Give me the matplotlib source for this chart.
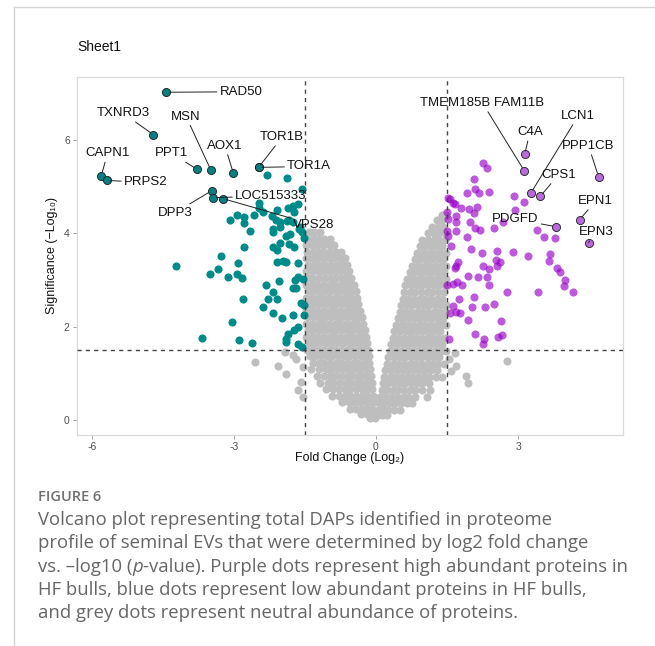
import matplotlib
matplotlib.use("Agg")
import matplotlib.pyplot as plt
from matplotlib.lines import Line2D

# ---- labelled proteins: point (log2 FC, -log10 p) and where the label sits
down_genes = ["RAD50", "TXNRD3", "MSN", "PPT1", "AOX1", "TOR1B", "TOR1A",
              "CAPN1", "PRPS2", "DPP3", "LOC515333", "VPS28"]
down_fc = [-4.43, -4.70, -3.49, -3.78, -3.01, -2.48, -2.48, -5.80, -5.68, -3.47, -3.44, -3.23]
down_sig = [7.02, 6.11, 5.36, 5.37, 5.28, 5.41, 5.41, 5.23, 5.13, 4.91, 4.76, 4.74]
down_lab_x = [-2.85, -5.34, -4.01, -4.32, -3.19, -1.98, -1.41, -5.67, -4.86, -4.24, -2.22, -1.31]
down_lab_y = [7.03, 6.57, 6.50, 5.71, 5.87, 6.06, 5.43, 5.71, 5.09, 4.44, 4.80, 4.18]

up_genes = ["TMEM185B FAM11B", "C4A", "LCN1", "PPP1CB", "CPS1", "EPN1", "EPN3", "PDGFD"]
up_fc = [3.13, 3.14, 3.27, 4.70, 3.47, 4.30, 4.49, 3.80]
up_sig = [5.34, 5.69, 4.86, 5.21, 4.79, 4.29, 3.80, 4.14]
up_lab_x = [2.25, 3.25, 4.27, 4.49, 3.85, 4.64, 4.66, 2.94]
up_lab_y = [6.79, 6.16, 6.51, 5.87, 5.25, 4.69, 4.02, 4.30]

# ---- other low abundant (teal) proteins
teal_fc = [-2.30, -1.88, -1.56, -2.47, -2.47, -2.10, -1.85, -1.75, -1.65, -1.73, -3.08, -2.94,
           -2.78, -2.57, -2.39, -2.19, -2.12, -2.03, -2.66, -2.17, -1.83, -1.75, -1.62, -1.60,
           -1.57, -1.52, -2.79, -2.79, -2.17, -2.17, -2.10, -2.02, -1.89, -1.83, -1.87, -1.81,
           -1.73, -2.03, -4.23, -3.68, -3.51, -3.33, -3.27, -3.13, -2.92, -2.94, -2.83, -2.80,
           -3.04, -2.90, -2.61, -2.39, -2.33, -2.29, -2.18, -2.17, -2.09, -2.04, -1.99, -2.09,
           -1.97, -1.91, -1.64, -1.64, -1.71, -1.75, -1.69, -1.54, -1.59, -1.52, -1.52, -1.76,
           -1.64, -1.73, -1.85, -1.91, -1.90, -1.64, -1.57]
teal_sig = [5.24, 5.19, 4.95, 4.64, 4.55, 4.49, 4.54, 4.58, 4.62, 4.46, 4.29, 4.38,
            4.35, 4.39, 4.46, 4.37, 4.29, 4.24, 4.04, 4.08, 4.29, 4.25, 4.10, 4.14,
            4.03, 3.90, 4.21, 3.71, 4.03, 3.71, 3.64, 4.13, 3.93, 3.77, 4.26, 3.99,
            3.70, 3.80, 3.29, 1.75, 3.13, 3.24, 3.51, 3.07, 3.37, 3.13, 3.03, 2.58,
            2.09, 1.71, 1.64, 2.41, 2.88, 2.58, 2.30, 2.75, 2.58, 2.98, 2.19, 3.39,
            3.41, 3.39, 3.36, 3.07, 3.00, 2.82, 2.83, 3.01, 2.50, 2.46, 2.25, 2.25,
            1.98, 1.93, 1.84, 1.73, 1.66, 1.62, 1.57]

# ---- other high abundant (purple) proteins
purple_fc = [2.25, 2.34, 2.07, 1.93, 2.09, 2.18, 2.38, 1.56, 1.67, 1.79, 1.97, 2.13, 2.08,
             2.92, 3.12, 2.94, 1.70, 1.69, 1.98, 1.49, 1.53, 1.69, 2.10, 2.20, 2.50, 2.69,
             3.41, 3.54, 3.77, 1.93, 1.59, 2.01, 2.23, 2.55, 2.89, 3.20, 3.67, 3.66, 2.53,
             2.61, 1.70, 1.67, 1.74, 2.25, 2.39, 2.56, 3.82, 3.89, 3.99, 3.96, 4.15, 1.94,
             2.16, 2.35, 2.38, 1.51, 1.63, 1.81, 1.71, 2.77, 3.42, 1.76, 2.06, 1.63, 1.69,
             1.77, 1.56, 2.02, 2.30, 2.50, 1.94, 2.65, 1.54, 2.09, 2.28, 2.27, 2.57, 2.66,
             1.49, 1.52, 1.53, 1.63]
purple_sig = [5.51, 5.40, 5.16, 4.86, 4.94, 4.87, 4.88, 4.73, 4.62, 4.53, 4.52, 4.57, 4.44,
              4.79, 4.66, 4.49, 4.36, 4.23, 4.25, 4.05, 3.93, 4.05, 4.11, 4.07, 4.12, 4.24,
              4.07, 3.91, 3.89, 3.91, 3.73, 3.66, 3.58, 3.61, 3.60, 3.51, 3.55, 3.41, 3.43,
              3.39, 3.29, 3.25, 3.39, 3.29, 3.23, 3.30, 3.25, 3.16, 3.00, 2.86, 2.73, 3.09,
              3.07, 3.07, 2.90, 2.89, 2.91, 2.90, 2.96, 2.73, 2.73, 2.59, 2.64, 2.43, 2.32,
              2.30, 2.30, 2.41, 2.42, 2.48, 2.14, 2.11, 1.73, 1.83, 1.73, 1.63, 1.78, 1.81,
              4.45, 4.30, 4.75, 4.64]

# ---- neutral (grey) proteins, read row by row: significance -> fold changes
grey_left_rows = {
    4.02: [-1.42, -1.30, -1.18],
    3.88: [-1.46, -1.34, -1.22, -1.10, -0.98],
    3.74: [-1.47, -1.36, -1.24, -1.12, -1.00, -0.88],
    3.60: [-1.45, -1.33, -1.21, -1.09, -0.97, -0.85, -0.74],
    3.46: [-1.48, -1.36, -1.24, -1.12, -1.00, -0.88, -0.76, -0.66],
    3.32: [-1.43, -1.31, -1.19, -1.07, -0.95, -0.83, -0.71, -0.61],
    3.18: [-1.47, -1.35, -1.23, -1.11, -0.99, -0.87, -0.75, -0.64, -0.56],
    3.04: [-1.44, -1.32, -1.20, -1.08, -0.96, -0.84, -0.72, -0.61, -0.52],
    2.90: [-1.48, -1.36, -1.24, -1.12, -1.00, -0.88, -0.76, -0.65, -0.55, -0.47],
    2.76: [-1.42, -1.30, -1.18, -1.06, -0.94, -0.82, -0.70, -0.59, -0.49, -0.43],
    2.62: [-1.47, -1.35, -1.23, -1.11, -0.99, -0.87, -0.75, -0.63, -0.52, -0.40],
    2.48: [-1.44, -1.32, -1.20, -1.08, -0.96, -0.84, -0.72, -0.60, -0.48, -0.37],
    2.34: [-1.48, -1.36, -1.24, -1.12, -1.00, -0.88, -0.76, -0.64, -0.53, -0.42, -0.33],
    2.20: [-1.43, -1.31, -1.19, -1.07, -0.95, -0.83, -0.71, -0.59, -0.47, -0.36, -0.29],
    2.06: [-1.47, -1.35, -1.23, -1.11, -0.99, -0.87, -0.75, -0.63, -0.51, -0.40, -0.27],
    1.92: [-1.44, -1.32, -1.20, -1.08, -0.96, -0.84, -0.72, -0.60, -0.48, -0.36, -0.24],
    1.78: [-1.48, -1.36, -1.24, -1.12, -1.00, -0.88, -0.76, -0.64, -0.52, -0.40, -0.29, -0.21],
    1.64: [-1.42, -1.30, -1.18, -1.06, -0.94, -0.82, -0.70, -0.58, -0.46, -0.34, -0.23, -0.18],
    1.50: [-1.46, -1.34, -1.22, -1.10, -0.98, -0.86, -0.74, -0.62, -0.50, -0.38, -0.27, -0.16],
    1.36: [-1.40, -1.28, -1.16, -1.04, -0.92, -0.80, -0.68, -0.56, -0.44, -0.32, -0.21, -0.14],
    1.22: [-1.33, -1.21, -1.09, -0.97, -0.85, -0.73, -0.61, -0.49, -0.37, -0.26, -0.15],
    1.08: [-1.37, -1.20, -1.06, -0.94, -0.82, -0.70, -0.58, -0.46, -0.34, -0.22, -0.12],
    0.94: [-1.25, -1.10, -0.98, -0.86, -0.74, -0.62, -0.50, -0.38, -0.27, -0.17, -0.10],
    0.80: [-1.18, -1.02, -0.90, -0.78, -0.66, -0.54, -0.42, -0.31, -0.20, -0.09],
    0.66: [-1.05, -0.90, -0.78, -0.66, -0.54, -0.42, -0.30, -0.19, -0.08],
    0.52: [-0.92, -0.78, -0.66, -0.54, -0.42, -0.30, -0.18, -0.07],
    0.38: [-0.72, -0.58, -0.46, -0.34, -0.22, -0.11, -0.05],
    0.24: [-0.55, -0.42, -0.30, -0.18, -0.08],
    0.12: [-0.32, -0.20, -0.09],
    0.03: [-0.12, -0.02],
}
grey_right_rows = {
    4.40: [1.40, 1.48],
    4.28: [1.28, 1.40],
    4.14: [1.18, 1.30, 1.42],
    4.00: [1.10, 1.22, 1.34, 1.46],
    3.86: [0.98, 1.10, 1.22, 1.34, 1.46],
    3.72: [0.92, 1.04, 1.16, 1.28, 1.40],
    3.58: [0.87, 0.99, 1.11, 1.23, 1.35, 1.47],
    3.44: [0.82, 0.94, 1.06, 1.18, 1.30, 1.42],
    3.30: [0.77, 0.89, 1.01, 1.13, 1.25, 1.37, 1.47],
    3.16: [0.71, 0.83, 0.95, 1.07, 1.19, 1.31, 1.43],
    3.02: [0.66, 0.78, 0.90, 1.02, 1.14, 1.26, 1.38, 1.48],
    2.88: [0.62, 0.74, 0.86, 0.98, 1.10, 1.22, 1.34, 1.45],
    2.74: [0.59, 0.71, 0.83, 0.95, 1.07, 1.19, 1.31, 1.43],
    2.60: [0.56, 0.68, 0.80, 0.92, 1.04, 1.16, 1.28, 1.40],
    2.46: [0.53, 0.65, 0.77, 0.89, 1.01, 1.13, 1.25, 1.37, 1.47],
    2.32: [0.50, 0.62, 0.74, 0.86, 0.98, 1.10, 1.22, 1.34, 1.45],
    2.18: [0.46, 0.58, 0.70, 0.82, 0.94, 1.06, 1.18, 1.30, 1.42],
    2.04: [0.42, 0.54, 0.66, 0.78, 0.90, 1.02, 1.14, 1.26, 1.38, 1.47],
    1.90: [0.39, 0.51, 0.63, 0.75, 0.87, 0.99, 1.11, 1.23, 1.35],
    1.76: [0.35, 0.47, 0.59, 0.71, 0.83, 0.95, 1.07, 1.19, 1.31, 1.43],
    1.62: [0.32, 0.44, 0.56, 0.68, 0.80, 0.92, 1.04, 1.16, 1.28, 1.40],
    1.48: [0.29, 0.41, 0.53, 0.65, 0.77, 0.89, 1.01, 1.13, 1.25, 1.37, 1.48],
    1.34: [0.26, 0.38, 0.50, 0.62, 0.74, 0.86, 0.98, 1.10, 1.22, 1.34],
    1.20: [0.23, 0.35, 0.47, 0.59, 0.71, 0.83, 0.95, 1.07, 1.19, 1.31, 1.44],
    1.06: [0.20, 0.32, 0.44, 0.56, 0.68, 0.80, 0.92, 1.04, 1.16, 1.29],
    0.92: [0.17, 0.29, 0.41, 0.53, 0.65, 0.77, 0.89, 1.01, 1.13, 1.26, 1.40],
    0.78: [0.14, 0.26, 0.38, 0.50, 0.62, 0.74, 0.86, 0.98, 1.12],
    0.64: [0.12, 0.23, 0.35, 0.47, 0.59, 0.71, 0.83, 0.97, 1.15],
    0.50: [0.09, 0.20, 0.32, 0.44, 0.56, 0.68, 0.82, 1.07],
    0.36: [0.06, 0.17, 0.29, 0.41, 0.53, 0.65, 0.77],
    0.22: [0.04, 0.14, 0.26, 0.38, 0.50],
    0.10: [0.02, 0.12, 0.24],
}
grey_extra_fc = [1.67, 1.69, 1.90, 1.95, 2.76, 1.55, 1.58,
                 -2.56, -2.07, -1.90, -1.92, -1.68, -1.64, -1.59, -1.54, -1.55, -1.75]
grey_extra_sig = [1.44, 1.16, 0.93, 0.78, 1.26, 1.30, 1.05,
                  1.23, 1.16, 0.98, 1.46, 1.30, 0.64, 0.82, 1.14, 0.50, 1.40]

fc_cut = 1.5
p_cut = 1.5

caption_title = "FIGURE 6"
caption_lines = [
    ["Volcano plot representing total DAPs identified in proteome"],
    ["profile of seminal EVs that were determined by log2 fold change"],
    ["vs. \u2013log10 (", ("p", "italic"), "-value). Purple dots represent high abundant proteins in"],
    ["HF bulls, blue dots represent low abundant proteins in HF bulls,"],
    ["and grey dots represent neutral abundance of proteins."],
]

W, H = 655, 646
fig = plt.figure(figsize=(W / 100, H / 100), dpi=100)
plt.rcParams['font.family'] = ['Liberation Sans', 'DejaVu Sans']


def fx(px):
    return px / W


def fy(py):
    return 1 - py / H


ax = fig.add_axes([fx(76.7), fy(435.3), (622.7 - 76.7) / W, (435.3 - 77.3) / H])

grey_fc, grey_sig = [], []
for rows in (grey_left_rows, grey_right_rows):
    for s, xs in rows.items():
        grey_fc += xs
        grey_sig += [s] * len(xs)
grey_fc += grey_extra_fc
grey_sig += grey_extra_sig

dot = 34
ax.scatter(grey_fc, grey_sig, s=dot, color='#BEBEBE', linewidths=0, zorder=2)
ax.scatter(teal_fc, teal_sig, s=dot, color='#008B8B', linewidths=0, zorder=3)
ax.scatter(purple_fc, purple_sig, s=dot, color='#9A00C8', alpha=0.65, linewidths=0, zorder=3)
ax.scatter(down_fc, down_sig, s=dot, color='#0A7F80', edgecolors='#1a1a1a', linewidths=0.6, zorder=4)
ax.scatter(up_fc, up_sig, s=dot, color='#B86ADC', edgecolors='#1a1a1a', linewidths=0.6, zorder=4)

for v in (-fc_cut, fc_cut):
    ax.axvline(v, color='#444444', lw=1.0, ls=(0, (3, 3)), zorder=5)
ax.axhline(p_cut, color='#444444', lw=1.0, ls=(0, (3, 3)), zorder=5)

names = down_genes + up_genes
pts_x = down_fc + up_fc
pts_y = down_sig + up_sig
lab_x = down_lab_x + up_lab_x
lab_y = down_lab_y + up_lab_y
for name, px, py, tx, ty in zip(names, pts_x, pts_y, lab_x, lab_y):
    ax.annotate(name, xy=(px, py), xytext=(tx, ty), ha='center', va='center',
                fontsize=9.5, color='#111111', zorder=6,
                arrowprops=dict(arrowstyle='-', color='#222222', lw=0.7,
                                shrinkA=0, shrinkB=2.5))

ax.set_xlim(-6.32, 5.21)
ax.set_ylim(-0.33, 7.34)
ax.set_xticks([-6, -3, 0, 3])
ax.set_xticklabels(['-6', '-3', '0', '3'])
ax.set_yticks([0, 2, 4, 6])
ax.tick_params(length=3, width=0.6, color='#9a9a9a', labelsize=7.5,
               labelcolor='#4d4d4d', pad=2)
for sp in ax.spines.values():
    sp.set_color('#dadada')
    sp.set_linewidth(0.9)

fig.text(fx(77), fy(47), "Sheet1", fontsize=10, va='center', ha='left', color='#111111')
fig.text(fx(349.7), fy(458), "Fold Change (Log\u2082)", fontsize=9, ha='center', va='center',
         color='#111111')
fig.text(fx(52), fy(256), "Significance (\u2212Log\u2081\u2080)", fontsize=9, ha='center',
         va='center', rotation=90, color='#111111')

# page frame
fig.add_artist(Line2D([fx(14), fx(14)], [fy(7), 0], color='#d4d4d4', lw=1))
fig.add_artist(Line2D([fx(14), 1], [fy(7), fy(7)], color='#d4d4d4', lw=1))

# caption
cap_font = ['Open Sans', 'DejaVu Sans']
fig.text(fx(38), fy(497), caption_title, fontsize=10.5, color='#707070',
         family=cap_font, weight='semibold', va='center')
renderer = fig.canvas.get_renderer()
for i, parts in enumerate(caption_lines):
    x0 = fx(38)
    y0 = fy(520 + 23.3 * i)
    for part in parts:
        style = 'normal'
        if isinstance(part, tuple):
            part, style = part
        t = fig.text(x0, y0, part, fontsize=13.3, color='#666666', family=cap_font,
                     style=style, va='center')
        bb = t.get_window_extent(renderer)
        x0 = x0 + bb.width / W

fig.savefig("out.png", dpi=100)
